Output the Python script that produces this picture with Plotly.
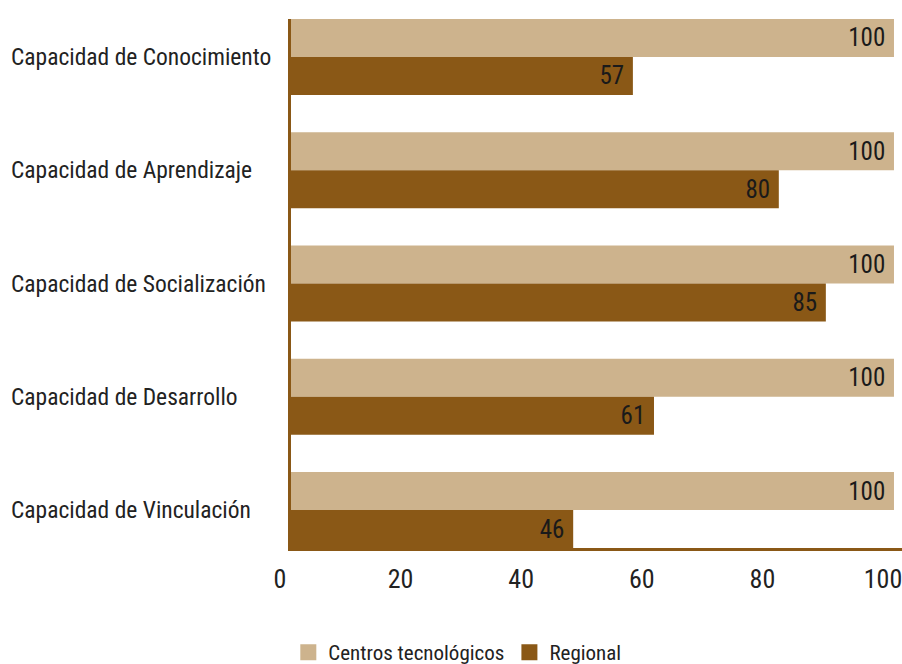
import plotly.graph_objects as go

categories = ["Capacidad de Conocimiento", "Capacidad de Aprendizaje", "Capacidad de Socialización",
              "Capacidad de Desarrollo", "Capacidad de Vinculación"]
centros_values = [100, 100, 100, 100, 100]
centros_labels = ["100", "100", "100", "100", "100"]
regional_values = [56.7, 80.9, 88.7, 60.2, 46.8]
regional_labels = ["57", "80", "85", "61", "46"]
x_ticks = [0, 20, 40, 60, 80, 100]

FONT = "Liberation Sans Narrow, Arial Narrow, Roboto Condensed, Liberation Sans, sans-serif"
C_LIGHT = "#CDB38D"
C_DARK = "#8A5816"
PAD = "\u00a0"

fig = go.Figure()
fig.add_trace(go.Bar(
    y=categories, x=centros_values, orientation="h", name="Centros tecnológicos",
    marker=dict(color=C_LIGHT, line=dict(width=0)), showlegend=False,
    text=[t + PAD for t in centros_labels], textposition="inside", insidetextanchor="end",
    textfont=dict(family=FONT, size=25, color="#1a1a1a"),
))
fig.add_trace(go.Bar(
    y=categories, x=regional_values, orientation="h", name="Regional",
    marker=dict(color=C_DARK, line=dict(width=0)), showlegend=False,
    text=[t + PAD for t in regional_labels], textposition="inside", insidetextanchor="end",
    textfont=dict(family=FONT, size=25, color="#1a1a1a"),
))
# legend entries with larger square swatches
for name, col in [("Centros tecnológicos", C_LIGHT), ("Regional", C_DARK)]:
    fig.add_trace(go.Scatter(x=[None], y=[None], mode="markers", name=name,
                             marker=dict(symbol="square", size=16, color=col)))

for c in categories:
    fig.add_annotation(x=-282 / 611, xref="paper", y=c, yref="y", text=c, showarrow=False,
                       xanchor="left", yanchor="middle",
                       font=dict(family=FONT, size=23.5, color="#222222"))

fig.update_layout(
    width=902, height=664,
    margin=dict(l=291, r=0, t=19, b=116),
    barmode="group", bargap=0.33, bargroupgap=0,
    plot_bgcolor="white", paper_bgcolor="white",
    legend=dict(orientation="h", x=0.507, xanchor="center", xref="container",
                y=0.048, yanchor="top", yref="container",
                font=dict(family=FONT, size=21, color="#222222"),
                traceorder="normal"),
    xaxis=dict(range=[0, 101.33], tickvals=x_ticks, showgrid=False, zeroline=False,
               showline=True, linecolor=C_DARK, linewidth=3, ticks="",
               tickfont=dict(family=FONT, size=26, color="#222222"),
               ticklabelstandoff=6, ticklabelshift=-11, ticklabeloverflow="allow",
               automargin=False),
    yaxis=dict(range=[4.335, -0.335], showticklabels=False, showgrid=False, zeroline=False,
               showline=True, linecolor=C_DARK, linewidth=3, ticks="", automargin=False),
)

fig.write_html("out.html", config={"displayModeBar": False},
               post_script="document.body.style.margin='0';document.body.style.padding='0';")
